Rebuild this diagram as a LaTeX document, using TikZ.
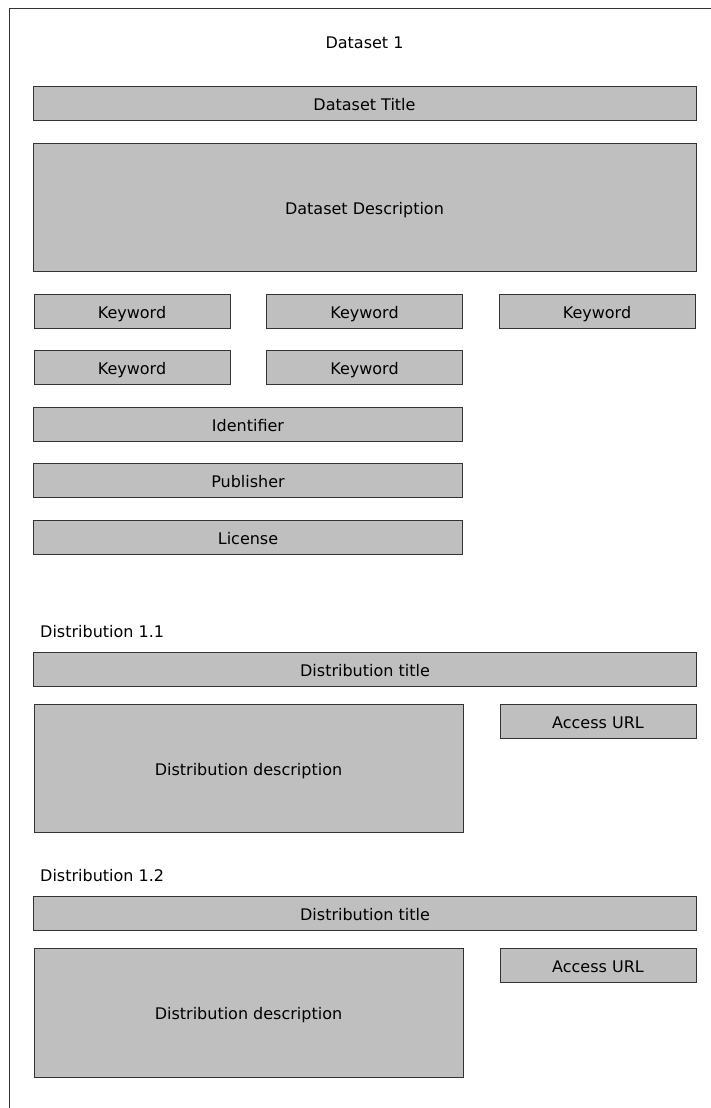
\documentclass[tikz,border=0pt]{standalone}
\usepackage{fontspec}
\setmainfont{DejaVu Sans}
\begin{document}
\begin{tikzpicture}[x=1pt,y=-1pt,
  field/.style={draw=black!80, fill=black!25, line width=1pt, inner sep=0pt,
    text height=14pt, text depth=0pt,
    font=\fontsize{16}{19}\selectfont, text=black},
  caption/.style={font=\fontsize{16}{19}\selectfont, inner sep=0pt},
  halfrow/.style={minimum width=196pt, minimum height=34pt},
  widerow/.style={minimum width=429pt, minimum height=34pt},
  fullrow/.style={minimum width=663pt, minimum height=34pt}]
\useasboundingbox (0,0) rectangle (711,1108);
% outer frame, running off the right and bottom edges
\begin{scope}
\clip (0,0) rectangle (711,1108);
\draw[line width=1pt, black!80] (9.5,1120) -- (9.5,8.5) -- (720,8.5);
\end{scope}

\node[caption] (ds) at (364.5,43) {Dataset 1};
\node[field, fullrow] (dstitle) at (364.5,103) {Dataset Title};
\node[field, minimum width=663pt, minimum height=128pt] (dsdesc) at (364.5,207) {Dataset Description};

\node[field, halfrow] (kw1) at (132,311) {Keyword};
\node[field, halfrow] (kw2) at (364.5,311) {Keyword};
\node[field, halfrow] (kw3) at (597,311) {Keyword};
\node[field, halfrow] (kw4) at (132,367.5) {Keyword};
\node[field, halfrow] (kw5) at (364.5,367.5) {Keyword};

\node[field, widerow] (ident) at (248,424) {Identifier};
\node[field, widerow] (pub) at (248,480.5) {Publisher};
\node[field, widerow] (lic) at (248,537) {License};

% distribution 1.1
\node[caption, anchor=west] (d11) at (40,632) {Distribution 1.1};
\node[field, fullrow] (d11title) at (365,669) {Distribution title};
\node[field, minimum width=429pt, minimum height=128pt] (d11desc) at (248.5,768) {Distribution description};
\node[field, halfrow] (d11url) at (598,721) {Access URL};

% distribution 1.2
\node[caption, anchor=west] (d12) at (40,876) {Distribution 1.2};
\node[field, fullrow] (d12title) at (365,913) {Distribution title};
\node[field, minimum width=429pt, minimum height=129pt] (d12desc) at (248.5,1012.5) {Distribution description};
\node[field, halfrow] (d12url) at (598,965) {Access URL};
\end{tikzpicture}
\end{document}
